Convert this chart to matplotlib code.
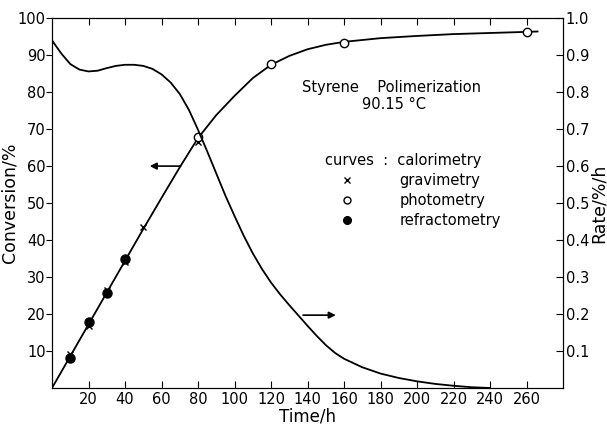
import matplotlib.pyplot as plt

# conversion curve (calorimetry)
t_conv = [0, 10, 20, 30, 40, 50, 60, 70, 80, 90, 100, 110, 120, 130, 140,
          150, 160, 180, 200, 220, 240, 260, 266]
conv = [0, 8.6, 17.2, 25.8, 34.4, 43.0, 51.4, 59.7, 67.6, 73.8, 79.0, 83.8,
        87.4, 89.8, 91.6, 92.8, 93.6, 94.6, 95.2, 95.7, 96.0, 96.3, 96.4]

# rate curve (right axis)
t_rate = [0, 5, 10, 15, 20, 25, 30, 35, 40, 45, 50, 55, 60, 65, 70, 75, 80,
          85, 90, 95, 100, 105, 110, 115, 120, 125, 130, 135, 140, 145, 150,
          155, 160, 170, 180, 190, 200, 210, 220, 230, 240]
rate = [0.94, 0.905, 0.876, 0.861, 0.856, 0.858, 0.865, 0.871, 0.874, 0.874,
        0.871, 0.863, 0.848, 0.826, 0.795, 0.752, 0.698, 0.64, 0.58, 0.52,
        0.465, 0.412, 0.364, 0.322, 0.285, 0.253, 0.224, 0.196, 0.168, 0.141,
        0.116, 0.095, 0.079, 0.056, 0.039, 0.027, 0.018, 0.011, 0.006, 0.002,
        0.0]

# measured points
t_grav = [10, 20, 30, 40, 50, 80]
c_grav = [9.2, 16.8, 26.6, 34.0, 43.6, 66.6]
t_phot = [80, 120, 160, 260]
c_phot = [67.8, 87.6, 93.2, 96.2]
t_refr = [10, 20, 30, 40]
c_refr = [8.0, 17.8, 25.6, 35.0]

fig = plt.figure(figsize=(6.07, 4.30), dpi=100)
ax = fig.add_axes([0.0857, 0.0977, 0.842, 0.860])
ax2 = ax.twinx()

ax.plot(t_conv, conv, color="black", lw=1.3)
ax2.plot(t_rate, rate, color="black", lw=1.3)
ax.plot(t_grav, c_grav, "x", color="black", ms=5, mew=1.0)
ax.plot(t_phot, c_phot, "o", mfc="white", mec="black", ms=6, mew=1.0)
ax.plot(t_refr, c_refr, "o", color="black", ms=6.5)

# arrows
ax.annotate("", xy=(52, 60), xytext=(72, 60),
            arrowprops=dict(arrowstyle="-|>", color="black", lw=1.2))
ax.annotate("", xy=(157, 19.7), xytext=(136, 19.7),
            arrowprops=dict(arrowstyle="-|>", color="black", lw=1.2))

ax.set_xlim(0, 280)
ax.set_ylim(0, 100)
ax2.set_ylim(0, 1.0)
ax.set_xticks(range(20, 261, 20))
ax.set_yticks(range(10, 101, 10))
ax2.set_yticks([0.1 * i for i in range(1, 11)])
ax2.set_yticklabels(["0.1", "0.2", "0.3", "0.4", "0.5", "0.6", "0.7", "0.8", "0.9", "1.0"])

ax.tick_params(axis="x", direction="in", top=True, length=5, labelsize=10.5, pad=3)
ax.tick_params(axis="y", direction="out", length=4, labelsize=10.5, pad=0.5)
ax2.tick_params(axis="y", direction="in", length=5, labelsize=10.5, pad=2)

ax.set_xlabel("Time/h", fontsize=12)
ax.set_ylabel("Conversion/%", fontsize=12.5)
ax2.set_ylabel("Rate/%/h", fontsize=12.5)
ax.xaxis.set_label_coords(0.5, -0.052)
ax.yaxis.set_label_coords(-0.066, 0.5)
ax2.yaxis.set_label_coords(1.053, 0.5)

ax.text(0.49, 0.812, "Styrene    Polimerization", transform=ax.transAxes,
        fontsize=10.5, ha="left", va="center")
ax.text(0.606, 0.766, "90.15 °C", transform=ax.transAxes,
        fontsize=10.5, ha="left", va="center")

ax.text(0.535, 0.614, "curves  :  calorimetry", transform=ax.transAxes,
        fontsize=10.5, va="center")
ax.text(0.68, 0.562, "gravimetry", transform=ax.transAxes, fontsize=10.5, va="center")
ax.text(0.68, 0.508, "photometry", transform=ax.transAxes, fontsize=10.5, va="center")
ax.text(0.68, 0.454, "refractometry", transform=ax.transAxes, fontsize=10.5, va="center")
ax.plot([0.577], [0.562], "x", color="black", ms=5, transform=ax.transAxes)
ax.plot([0.577], [0.508], "o", mfc="white", mec="black", ms=5, transform=ax.transAxes)
ax.plot([0.577], [0.454], "o", color="black", ms=5.5, transform=ax.transAxes)

plt.savefig("out.png")
